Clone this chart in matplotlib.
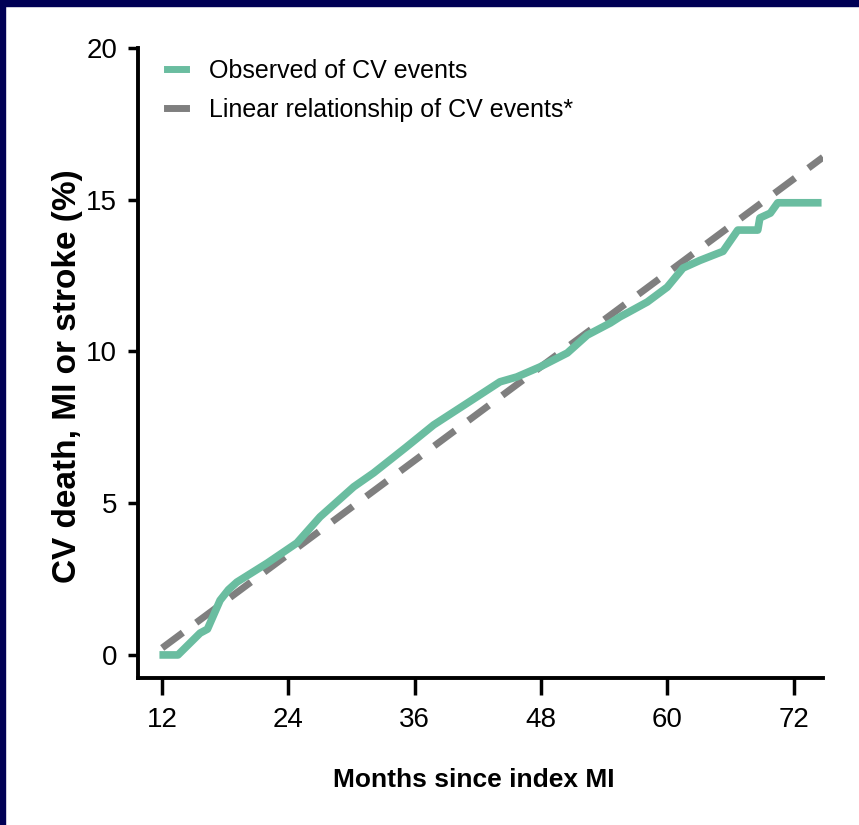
import matplotlib
matplotlib.use("Agg")
import matplotlib.pyplot as plt
import matplotlib.patches as patches

# observed cumulative CV events (%)
obs_months = [12.1, 13.5, 15.6, 16.3, 17.5, 18.3, 19.1, 22.0, 24.8, 27.0, 30.2, 32.1,
              35.2, 37.8, 41.0, 44.1, 45.7, 47.9, 50.5, 52.4, 54.6, 55.5, 56.2,
              58.1, 60.0, 61.5, 63.1, 65.3, 66.7, 68.6, 68.8, 69.8, 70.5, 74.3]
obs_values = [0.0, 0.0, 0.72, 0.85, 1.8, 2.15, 2.4, 3.03, 3.69, 4.55, 5.54, 6.0,
              6.85, 7.58, 8.3, 9.0, 9.16, 9.49, 9.95, 10.54, 10.94, 11.14, 11.27,
              11.63, 12.12, 12.75, 13.0, 13.3, 14.0, 14.0, 14.4, 14.56, 14.9, 14.9]

# linear relationship (end points)
lin_months = [12, 74.8]
lin_values = [0.23, 16.4]

x_ticks = [12, 24, 36, 48, 60, 72]
y_ticks = [0, 5, 10, 15, 20]

green = "#6ABDA0"
grey = "#7F7F7F"
sans = ["Liberation Sans", "DejaVu Sans"]
W, H = 859, 825

fig = plt.figure(figsize=(W / 100, H / 100), dpi=100)

# navy frame at top and left
fig.patches.append(patches.Rectangle((0, 1 - 6 / H), 1, 6 / H, transform=fig.transFigure,
                                     color="#000055", zorder=0))
fig.patches.append(patches.Rectangle((0, 0), 5 / W, 1, transform=fig.transFigure,
                                     color="#000055", zorder=0))

ax = fig.add_axes([138 / W, (H - 678) / H, (823 - 138) / W, (678 - 48) / H])

ax.plot(obs_months, obs_values, color=green, lw=5.5, solid_joinstyle="round",
        label="Observed of CV events", zorder=3)
ax.plot(lin_months, lin_values, color=grey, lw=5, linestyle=(0, (3.7, 2.4)),
        dash_capstyle="butt", label="Linear relationship of CV events*", zorder=2)

ax.set_xlim(9.7, 74.8)
ax.set_ylim(-0.76, 20)
ax.set_xticks(x_ticks)
ax.set_yticks(y_ticks)

for s in ["top", "right"]:
    ax.spines[s].set_visible(False)
for s in ["left", "bottom"]:
    ax.spines[s].set_linewidth(2.8)

ax.tick_params(axis="x", length=12, width=2.5, pad=9, labelsize=20)
ax.tick_params(axis="y", length=7, width=2.5, pad=8, labelsize=20)
for lab in ax.get_xticklabels() + ax.get_yticklabels():
    lab.set_family(sans)

leg = ax.legend(loc="upper left", bbox_to_anchor=(0.01, 1.018), frameon=False,
                handlelength=0.75, handletextpad=0.9, labelspacing=0.6,
                prop={"family": sans, "size": 18})
for h in leg.get_lines():
    h.set_linestyle("-")
    h.set_linewidth(5)

fig.text(68 / W, 1 - 376 / H, "CV death, MI or stroke (%)", rotation=90,
         ha="center", va="center", fontsize=24, fontweight="bold", family=sans)
fig.text(474 / W, 1 - 780 / H, "Months since index MI", ha="center", va="center",
         fontsize=19, fontweight="bold", family=sans)

fig.savefig("out.png", dpi=100)
